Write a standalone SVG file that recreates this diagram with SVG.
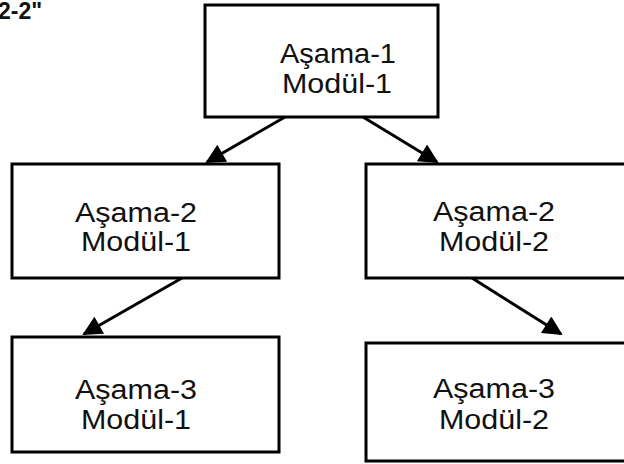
<svg xmlns="http://www.w3.org/2000/svg" width="624" height="464" viewBox="0 0 624 464">
<defs>
<style>
.box{fill:#fff;stroke:#000;stroke-width:3}
.lbl{font-family:"Liberation Sans",Arial,sans-serif;font-size:27px;fill:#111;text-anchor:middle}
.con{stroke:#000;stroke-width:3;fill:none;marker-end:url(#ah)}
</style>
<marker id="ah" viewBox="0 0 10 10" refX="9" refY="5" markerWidth="8" markerHeight="6.5" markerUnits="strokeWidth" orient="auto">
<path d="M0,0 L10,5 L0,10 z" fill="#000"/>
</marker>
</defs>
<rect width="624" height="464" fill="#fff"/>
<text x="-2" y="19" font-family="Liberation Sans,Arial,sans-serif" font-size="23" font-weight="bold" fill="#111">2-2"</text>
<g id="n1">
<rect class="box" x="205" y="5" width="233" height="112"/>
<text class="lbl" x="338" y="63" textLength="116" lengthAdjust="spacingAndGlyphs">Aşama-1</text>
<text class="lbl" x="337" y="93" textLength="110" lengthAdjust="spacingAndGlyphs">Modül-1</text>
</g>
<g id="n2">
<rect class="box" x="12" y="164" width="267" height="114"/>
<text class="lbl" x="136" y="222" textLength="122" lengthAdjust="spacingAndGlyphs">Aşama-2</text>
<text class="lbl" x="136" y="251" textLength="110" lengthAdjust="spacingAndGlyphs">Modül-1</text>
</g>
<g id="n3">
<rect class="box" x="366" y="164" width="270" height="114"/>
<text class="lbl" x="494" y="221" textLength="122" lengthAdjust="spacingAndGlyphs">Aşama-2</text>
<text class="lbl" x="494" y="251" textLength="110" lengthAdjust="spacingAndGlyphs">Modül-2</text>
</g>
<g id="n4">
<rect class="box" x="12" y="337" width="267" height="115"/>
<text class="lbl" x="136" y="399" textLength="122" lengthAdjust="spacingAndGlyphs">Aşama-3</text>
<text class="lbl" x="136" y="429" textLength="110" lengthAdjust="spacingAndGlyphs">Modül-1</text>
</g>
<g id="n5">
<rect class="box" x="366" y="343" width="270" height="118"/>
<text class="lbl" x="494" y="398" textLength="122" lengthAdjust="spacingAndGlyphs">Aşama-3</text>
<text class="lbl" x="494" y="429" textLength="110" lengthAdjust="spacingAndGlyphs">Modül-2</text>
</g>
<g id="connectors">
<line class="con" x1="285" y1="117" x2="207" y2="162"/>
<line class="con" x1="363" y1="117" x2="437" y2="162"/>
<line class="con" x1="182" y1="278" x2="84" y2="334"/>
<line class="con" x1="472" y1="278" x2="561" y2="334"/>
</g>
</svg>
